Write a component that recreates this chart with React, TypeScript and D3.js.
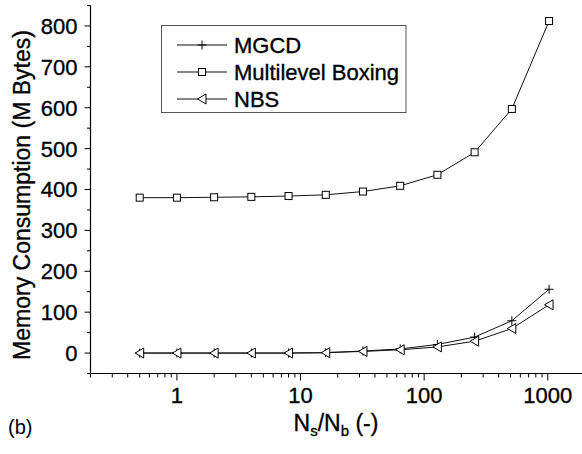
import * as d3 from "d3";

const ratios = [0.5, 1, 2, 4, 8, 16, 32, 64, 128, 256, 512, 1024];
const mgcd = [0, 0, 0, 0, 0, 1, 5, 10, 21, 39, 79, 156];
const boxing = [380, 380, 381, 382, 384, 387, 395, 409, 436, 491, 597, 812];
const nbs = [0, 0, 0, 0, 0, 1, 4, 8, 15, 29, 60, 118];
const yTicks = [0, 100, 200, 300, 400, 500, 600, 700, 800];
const xLabels = [1, 10, 100, 1000];
const seriesNames = ["MGCD", "Multilevel Boxing", "NBS"];

const W = 582;
const H = 454;
const FONT = "'Liberation Sans', Arial, Helvetica, sans-serif";
// the scanned figure has slightly heavy glyphs
const TXT = { stroke: "#000", strokeWidth: 0.35 };

function Marker({ kind, x, y }: { kind: string; x: number; y: number }) {
  if (kind === "MGCD") {
    return (
      <path
        d={`M${x - 4.5},${y}H${x + 4.5}M${x},${y - 4.5}V${y + 4.5}`}
        stroke="#000"
        strokeWidth={1}
      />
    );
  }
  if (kind === "Multilevel Boxing") {
    return <rect x={x - 3.5} y={y - 3.5} width={7} height={7} fill="#fff" stroke="#000" strokeWidth={1} />;
  }
  return (
    <path
      d={`M${x - 4.5},${y}L${x + 4},${y - 5}L${x + 4},${y + 5}Z`}
      fill="#fff"
      stroke="#000"
      strokeWidth={1}
    />
  );
}

export default function App() {
  const x = d3.scaleLog().domain([0.2, 2000]).range([90.5, 585]);
  const y = d3.scaleLinear().domain([-50, 850]).range([373.5, 5.5]);

  const line = d3
    .line<number>()
    .x((_, i) => x(ratios[i]))
    .y((d) => y(d));

  const series = [
    { name: "MGCD", values: mgcd },
    { name: "Multilevel Boxing", values: boxing },
    { name: "NBS", values: nbs },
  ];

  // minor ticks on the log axis
  const xMinor: number[] = [];
  for (let p = -1; p <= 3; p++) {
    for (let k = 2; k <= 9; k++) {
      const v = k * Math.pow(10, p);
      if (v >= 0.2 && v <= 2000) xMinor.push(v);
    }
  }
  const yMinor = d3.range(-50, 851, 100);

  const x0 = x.range()[0];
  const y0 = y.range()[0];

  return (
    <svg width={W} height={H} style={{ position: "absolute", left: 0, top: 0 }} fontFamily={FONT}>
      <rect width={W} height={H} fill="#fff" />

      {/* series */}
      {series.map((s) => (
        <g key={s.name}>
          <path d={line(s.values) || ""} fill="none" stroke="#111" strokeWidth={1} />
          {s.values.map((v, i) => (
            <Marker key={i} kind={s.name} x={x(ratios[i])} y={y(v)} />
          ))}
        </g>
      ))}

      {/* y axis */}
      <line x1={x0} x2={x0} y1={y.range()[1]} y2={y0} stroke="#000" strokeWidth={1.2} />
      {yMinor.map((v) => (
        <line key={"ym" + v} x1={x0 - 3.5} x2={x0} y1={y(v)} y2={y(v)} stroke="#000" />
      ))}
      {yTicks.map((v) => (
        <g key={"y" + v}>
          <line x1={x0 - 6} x2={x0} y1={y(v)} y2={y(v)} stroke="#000" />
          <text x={x0 - 13} y={y(v)} dy="0.36em" textAnchor="end" fontSize={22} {...TXT}>
            {v}
          </text>
        </g>
      ))}

      {/* x axis */}
      <line x1={x0} x2={W} y1={y0} y2={y0} stroke="#000" strokeWidth={1.2} />
      {xMinor.map((v) => (
        <line key={"xm" + v} x1={x(v)} x2={x(v)} y1={y0} y2={y0 + 4} stroke="#000" />
      ))}
      {xLabels.map((v) => (
        <g key={"x" + v}>
          <line x1={x(v)} x2={x(v)} y1={y0} y2={y0 + 7} stroke="#000" />
          <text x={x(v)} y={y0 + 29.5} textAnchor="middle" fontSize={22} {...TXT}>
            {v}
          </text>
        </g>
      ))}

      {/* axis titles */}
      <text
        transform={`translate(30,195) rotate(-90)`}
        textAnchor="middle"
        fontSize={23}
        {...TXT}
      >
        Memory Consumption (M Bytes)
      </text>
      <text x={336} y={431} textAnchor="middle" fontSize={23} {...TXT}>
        N<tspan fontSize={15} dy={5}>s</tspan>
        <tspan dy={-5}>/N</tspan>
        <tspan fontSize={15} dy={5}>b</tspan>
        <tspan dy={-5}> (-)</tspan>
      </text>
      <text x={8} y={434} fontSize={20}>
        (b)
      </text>

      {/* legend */}
      <rect x={161.5} y={25.5} width={244.5} height={87} fill="#fff" stroke="#555" strokeWidth={1} />
      {seriesNames.map((name, i) => {
        const ly = 45 + i * 27;
        return (
          <g key={name}>
            <line x1={177} x2={227} y1={ly} y2={ly} stroke="#111" />
            <Marker kind={name} x={202} y={ly} />
            <text x={234} y={ly} dy="0.36em" fontSize={22} {...TXT}>
              {name}
            </text>
          </g>
        );
      })}
    </svg>
  );
}
